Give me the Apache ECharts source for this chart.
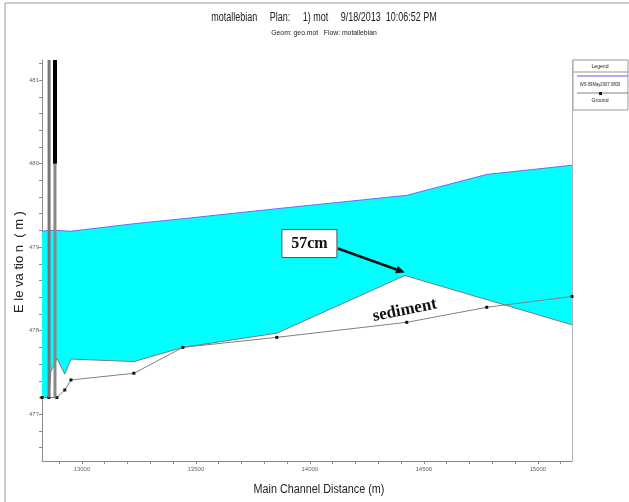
<!DOCTYPE html>
<html>
<head>
<meta charset="utf-8">
<script src="https://cdn.jsdelivr.net/npm/echarts@6/dist/echarts.min.js"></script>
<style>
html, body { margin: 0; padding: 0; background: #fff; }
#main { width: 629px; height: 502px; }
</style>
</head>
<body>
<div id="main"></div>
<script>
// water surface (WS 09May2007 0800)
var wsX = [12825, 12856, 12890, 12952, 13228, 13443, 13855, 14425, 14776, 15150];
var wsY = [479.19, 479.20, 479.20, 479.19, 479.28, 479.34, 479.46, 479.62, 479.87, 479.98];
// original bed (lower edge of the water)
var bedX = [12825, 12855, 12864, 12890, 12925, 12952, 13228, 13443, 13855, 14417, 15150];
var bedY = [477.20, 477.20, 477.51, 477.67, 477.48, 477.66, 477.63, 477.80, 477.97, 478.66, 478.07];
// ground
var groundX = [12825, 12855, 12890, 12925, 12952, 13228, 13443, 13855, 14425, 14776, 15150];
var groundY = [477.20, 477.20, 477.20, 477.29, 477.41, 477.49, 477.80, 477.92, 478.10, 478.28, 478.41];
// bank / levee markers
var markerX = [12856, 12882];
var markerBottom = 477.20;
var markerTop = 481.24;
var markerBlackFrom = 480.0;

var xLabels = [13000, 13500, 14000, 14500, 15000];
var xTicks = [12900, 13000, 13100, 13200, 13300, 13400, 13500, 13600, 13700, 13800, 13900,
              14000, 14100, 14200, 14300, 14400, 14500, 14600, 14700, 14800, 14900, 15000, 15100];
var yLabels = [477, 478, 479, 480, 481];
var yTicks = [476.6, 476.8, 477, 477.2, 477.4, 477.6, 477.8, 478, 478.2, 478.4, 478.6, 478.8,
              479, 479.2, 479.4, 479.6, 479.8, 480, 480.2, 480.4, 480.6, 480.8, 481, 481.2];

var sans = "'Liberation Sans', Arial, sans-serif";
var serif = "'Liberation Serif', 'Times New Roman', serif";

var chart = echarts.init(document.getElementById('main'));

function pairs(xs, ys) {
    return xs.map(function (x, i) { return [x, ys[i]]; });
}

var option = {
    animation: false,
    grid: { left: 42, top: 60, right: 57, bottom: 41, containLabel: false },
    xAxis: {
        type: 'value',
        min: 12825,
        max: 15150,
        axisLine: { lineStyle: { color: '#8a8a8a' } },
        axisTick: { customValues: xTicks, length: 3, lineStyle: { color: '#8a8a8a' } },
        axisLabel: {
            customValues: xLabels, fontFamily: sans, fontSize: 6, color: '#666', margin: 5,
            formatter: function (v) { return String(v); }
        },
        splitLine: { show: false }
    },
    yAxis: [{
        type: 'value',
        min: 476.44,
        max: 481.24,
        axisLine: { show: true, lineStyle: { color: '#8a8a8a' } },
        axisTick: { customValues: yTicks, length: 3, lineStyle: { color: '#8a8a8a' } },
        axisLabel: { customValues: yLabels, fontFamily: sans, fontSize: 6, color: '#666', margin: 3 },
        splitLine: { show: false }
    }, {
        type: 'value',
        position: 'right',
        min: 476.44,
        max: 481.24,
        axisLine: { show: true, lineStyle: { color: '#b0b0b0' } },
        axisTick: { show: false },
        axisLabel: { show: false },
        splitLine: { show: false }
    }],
    series: [
        {
            type: 'custom',
            name: 'water',
            data: [[wsX[0], wsY[0]]],
            encode: { x: 0, y: 1 },
            renderItem: function (params, api) {
                var pts = [];
                for (var i = 0; i < wsX.length; i++) pts.push(api.coord([wsX[i], wsY[i]]));
                for (var j = bedX.length - 1; j >= 0; j--) pts.push(api.coord([bedX[j], bedY[j]]));
                return { type: 'polygon', shape: { points: pts }, style: { fill: '#00ffff' } };
            },
            z: 1
        },
        {
            type: 'line',
            name: 'bed',
            data: pairs(bedX, bedY),
            showSymbol: false,
            lineStyle: { color: '#7a7a7a', width: 1 },
            z: 2
        },
        {
            type: 'line',
            name: 'WS 09May2007 0800',
            data: pairs(wsX, wsY),
            showSymbol: false,
            lineStyle: { color: '#6a6aff', width: 1 },
            z: 3
        },
        {
            type: 'line',
            name: 'Ground',
            data: pairs(groundX, groundY),
            symbol: 'rect',
            symbolSize: 3,
            itemStyle: { color: '#111' },
            lineStyle: { color: '#808080', width: 1 },
            z: 4
        },
        {
            type: 'line',
            name: 'bank1',
            data: [[markerX[0], markerBottom], [markerX[0], markerTop]],
            showSymbol: false,
            lineStyle: { color: '#777', width: 3 },
            z: 5
        },
        {
            type: 'line',
            name: 'bank2',
            data: [[markerX[1], markerBottom], [markerX[1], markerTop]],
            showSymbol: false,
            lineStyle: { color: '#888', width: 3 },
            z: 5
        },
        {
            type: 'line',
            name: 'bank2top',
            data: [[markerX[1], markerBlackFrom], [markerX[1], markerTop]],
            showSymbol: false,
            lineStyle: { color: '#000', width: 4 },
            z: 6
        }
    ]
};
chart.setOption(option);

// annotations, placed from the data through the chart's scales
var tip = chart.convertToPixel({ xAxisIndex: 0, yAxisIndex: 0 }, [bedX[9], bedY[9]]);
var sed = chart.convertToPixel({ xAxisIndex: 0, yAxisIndex: 0 }, [groundX[8], groundY[8]]);
var ax = tip[0], ay = tip[1] - 3;
var sx = tip[0] - 67, sy = tip[1] - 27;
var dx = ax - sx, dy = ay - sy, len = Math.sqrt(dx * dx + dy * dy);
var ux = dx / len, uy = dy / len;
var hl = 9, hw = 4;
var bx = ax - ux * hl, by = ay - uy * hl;

function narrowText(x, y, text, size, sx, extra) {
    var el = {
        type: 'text', x: x, y: y, scaleX: sx,
        style: { text: text, fontFamily: sans, fontSize: size, fill: '#222', align: 'center', verticalAlign: 'middle' }
    };
    if (extra) el.rotation = extra;
    return el;
}

chart.setOption({
    graphic: [
        // outer frame
        { type: 'line', shape: { x1: 5, y1: 3, x2: 629, y2: 3 }, style: { stroke: '#999', lineWidth: 1 } },
        { type: 'line', shape: { x1: 5, y1: 3, x2: 5, y2: 502 }, style: { stroke: '#999', lineWidth: 1 } },
        // titles
        narrowText(324, 18, 'motallebian     Plan:     1) mot     9/18/2013  10:06:52 PM', 12, 0.75),
        narrowText(324, 33, 'Geom: geo.mot   Flow: motallebian', 8, 0.85),
        // axis names
        narrowText(319, 490, 'Main Channel Distance (m)', 12, 0.9),
        narrowText(19, 262, 'E le va tio n  ( m )', 13, 1, Math.PI / 2),
        // legend box
        { type: 'rect', shape: { x: 573, y: 60, width: 55, height: 50 }, style: { fill: '#fff', stroke: '#999', lineWidth: 1 } },
        { type: 'line', shape: { x1: 573, y1: 72, x2: 628, y2: 72 }, style: { stroke: '#999', lineWidth: 1 } },
        narrowText(600, 66, 'Legend', 6, 0.85),
        { type: 'line', shape: { x1: 577, y1: 76, x2: 628, y2: 76 }, style: { stroke: '#9090ff', lineWidth: 1.5 } },
        narrowText(600, 84, 'WS 09May2007 0800', 6, 0.7),
        { type: 'line', shape: { x1: 577, y1: 93, x2: 628, y2: 93 }, style: { stroke: '#808080', lineWidth: 1 } },
        { type: 'rect', shape: { x: 599, y: 92, width: 3, height: 3 }, style: { fill: '#111' } },
        narrowText(600, 100, 'Ground', 6, 0.85),
        // 57cm box and arrow
        { type: 'rect', shape: { x: tip[0] - 123, y: tip[1] - 46, width: 55, height: 28 }, style: { fill: '#fff', stroke: '#555', lineWidth: 1 }, z: 50 },
        { type: 'text', x: tip[0] - 95.5, y: tip[1] - 32, style: { text: '57cm', fontFamily: serif, fontWeight: 'bold', fontSize: 16, fill: '#111', align: 'center', verticalAlign: 'middle' }, z: 51 },
        { type: 'line', shape: { x1: sx, y1: sy, x2: bx, y2: by }, style: { stroke: '#111', lineWidth: 2.5 }, z: 50 },
        { type: 'polygon', shape: { points: [[ax, ay], [bx - uy * hw, by + ux * hw], [bx + uy * hw, by - ux * hw]] }, style: { fill: '#111' }, z: 50 },
        // sediment label
        { type: 'text', x: sed[0] - 2, y: sed[1] - 12, rotation: 0.2, style: { text: 'sediment', fontFamily: serif, fontWeight: 'bold', fontSize: 17, fill: '#111', align: 'center', verticalAlign: 'middle' }, z: 50 }
    ]
});
</script>
</body>
</html>
